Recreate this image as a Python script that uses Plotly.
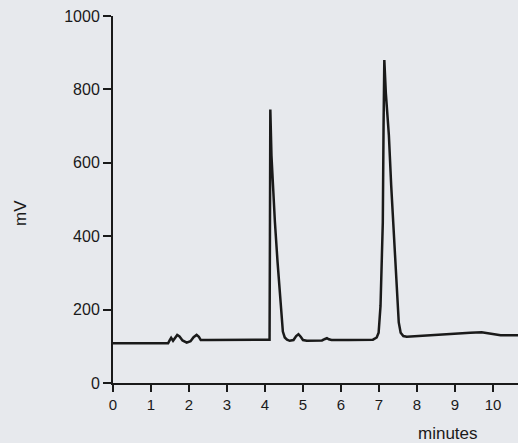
import plotly.graph_objects as go

# Chromatogram trace (time in minutes, signal in mV)
time_min = [0.00, 1.45, 1.49, 1.53, 1.58, 1.63, 1.69, 1.75, 1.83, 1.94, 2.04, 2.12, 2.20, 2.26, 2.31,
            2.50, 3.00, 3.50, 4.00, 4.12, 4.13, 4.14, 4.17, 4.21, 4.26, 4.33, 4.38, 4.43, 4.47, 4.52,
            4.58, 4.65, 4.75, 4.82, 4.88, 4.94, 5.00, 5.10, 5.30, 5.50, 5.58, 5.63, 5.68, 5.75, 6.20,
            6.50, 6.84, 6.94, 6.99, 7.04, 7.08, 7.10, 7.12, 7.14, 7.18, 7.26, 7.32, 7.37, 7.42, 7.47,
            7.52, 7.57, 7.64, 7.73, 8.00, 8.50, 9.00, 9.40, 9.70, 10.00, 10.20, 10.70]
signal_mv = [108, 108, 116, 123, 115, 124, 131, 127, 116, 110, 114, 125, 131, 126, 117,
             117, 117, 117, 117, 118, 400, 745, 620, 520, 440, 330, 262, 180, 140, 124,
             118, 115, 117, 128, 133, 126, 117, 115, 115, 116, 120, 122, 119, 117, 117,
             118, 118, 124, 137, 210, 349, 437, 700, 880, 790, 675, 540, 437, 348, 255,
             165, 137, 128, 126, 128, 131, 134, 137, 138, 134, 130, 130]

x_ticks = [0, 1, 2, 3, 4, 5, 6, 7, 8, 9, 10]
y_ticks = [0, 200, 400, 600, 800, 1000]
x_title = "minutes"
y_title = "mV"

ink = "#1a1a1a"
paper = "#e7e9ed"
font_family = "Liberation Sans, Arial, sans-serif"

W, H = 518, 443
left, right_edge, top, bottom_edge = 113, W, 16, 383
plot_w = right_edge - left
plot_h = bottom_edge - top

fig = go.Figure()
fig.add_trace(go.Scatter(x=time_min, y=signal_mv, mode="lines",
                         line=dict(color=ink, width=2.5), hoverinfo="skip"))

fig.update_layout(
    width=W, height=H,
    margin=dict(l=left, r=W - right_edge, t=top, b=H - bottom_edge, autoexpand=False),
    paper_bgcolor=paper, plot_bgcolor=paper,
    showlegend=False,
    font=dict(family=font_family, color=ink),
    xaxis=dict(range=[0, plot_w / 38.0], tickvals=x_ticks, ticktext=[str(v) for v in x_ticks],
               showline=True, linecolor=ink, linewidth=2, ticks="outside", ticklen=7,
               tickwidth=2, tickcolor=ink, showgrid=False, zeroline=False, automargin=False,
               tickfont=dict(size=15, color=ink, family=font_family)),
    yaxis=dict(range=[0, 1000], tickvals=y_ticks, ticktext=[str(v) for v in y_ticks],
               showline=True, linecolor=ink, linewidth=2, ticks="outside", ticklen=8,
               tickwidth=2, tickcolor=ink, showgrid=False, zeroline=False, automargin=False,
               tickfont=dict(size=16, color=ink, family=font_family)),
    annotations=[
        dict(text=y_title, xref="paper", yref="paper",
             x=(20 - left) / plot_w, y=(bottom_edge - 213) / plot_h,
             showarrow=False, textangle=-90, font=dict(size=17, color=ink, family=font_family),
             xanchor="center", yanchor="middle"),
        dict(text=x_title, xref="paper", yref="paper",
             x=(447.5 - left) / plot_w, y=(bottom_edge - 433) / plot_h,
             showarrow=False, font=dict(size=17, color=ink, family=font_family),
             xanchor="center", yanchor="middle"),
    ],
)

fig.write_html("out.html", config={"displayModeBar": False},
               post_script="document.body.style.margin='0';document.body.style.background='%s';" % paper)
